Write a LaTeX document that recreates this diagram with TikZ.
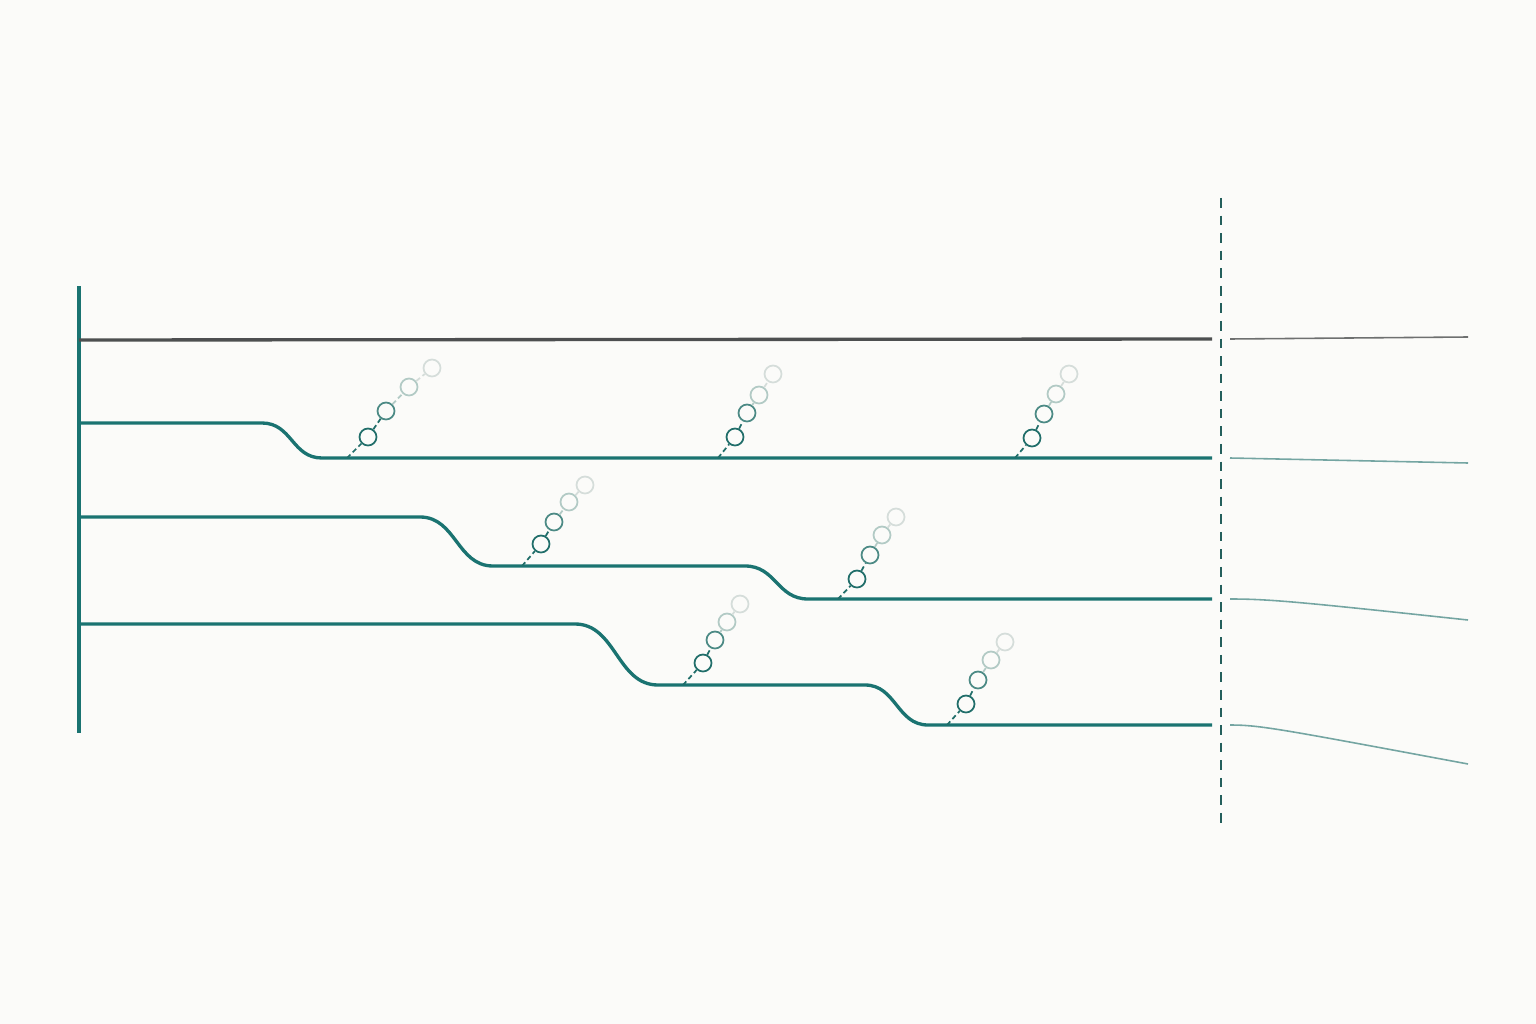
\documentclass[tikz,border=0pt]{standalone}
\definecolor{paper}{HTML}{FBFBF9}
\definecolor{lane}{HTML}{1A7371}
\definecolor{laneshade}{HTML}{74A5A2}
\definecolor{topline}{HTML}{4D4F50}
\definecolor{topshade}{HTML}{6E7070}
\definecolor{cutline}{HTML}{245F5C}
\definecolor{bubdark}{HTML}{216E6A}
\definecolor{bubmid}{HTML}{4C8A85}
\definecolor{bublight}{HTML}{B2CAC5}
\definecolor{bubfaint}{HTML}{D5DDDA}
\tikzset{
  lanestroke/.style={draw=lane, line width=1.9pt},
  tailstroke/.style={draw=laneshade, line width=0.9pt},
  bub/.style={circle, draw=#1, fill=paper, line width=1pt, minimum size=0.34cm, inner sep=0pt},
  hop/.style={draw=#1, line width=1pt, dash pattern=on 2.8pt off 1.8pt},
}
\begin{document}
\begin{tikzpicture}[x=0.02cm, y=-0.02cm]
  \fill[paper] (0,0) rectangle (1536,1024);

  % left bar and cut line
  \coordinate (bartop) at (79,286);
  \coordinate (barbot) at (79,733);
  \draw[lane, line width=1.9pt] (bartop) -- (barbot);
  \coordinate (cuttop) at (1221,198);
  \coordinate (cutbot) at (1221,830);
  \draw[cutline, line width=1.1pt, dash pattern=on 5.5pt off 4.5pt] (cuttop) -- (cutbot);

  % top lane
  \draw[topline, line width=1.9pt] (79,340) -- (1212,339);
  \draw[topshade, line width=0.9pt] (1230,339) -- (1468,337);

  % lanes that step down
  \draw[lanestroke] (79,423) -- (262,423) .. controls (292,423) and (292,458) .. (322,458) -- (1212,458);
  \draw[lanestroke] (79,517) -- (420,517) .. controls (456,517) and (457,566) .. (493,566)
    -- (745,566) .. controls (776,566) and (777,599) .. (808,599) -- (1212,599);
  \draw[lanestroke] (79,624) -- (575,624) .. controls (616,624) and (617,685) .. (658,685)
    -- (865,685) .. controls (896,685) and (897,725) .. (928,725) -- (1212,725);

  % tails past the cut
  \draw[tailstroke] (1230,458) -- (1468,463);
  \draw[tailstroke] (1230,599) .. controls (1270,599) and (1300,602) .. (1468,620);
  \draw[tailstroke] (1230,725) .. controls (1260,725) and (1280,729) .. (1468,764);

  % bubbles rising from the lanes
  \foreach \sx/\sy/\ax/\ay/\bx/\by/\cx/\cy/\dx/\dy [count=\i] in {
      347/458/368/437/386/411/409/387/432/368,
      718/458/735/437/747/413/759/395/773/374,
      1015/458/1032/438/1044/414/1056/394/1069/374,
      522/566/541/544/554/522/569/502/585/485,
      838/599/857/579/870/555/882/535/896/517,
      683/685/703/663/715/640/727/622/740/604,
      947/725/966/704/978/680/991/660/1005/642} {
    \coordinate (s\i) at (\sx,\sy);
    \node[bub=bubdark] (a\i) at (\ax,\ay) {};
    \node[bub=bubmid] (b\i) at (\bx,\by) {};
    \node[bub=bublight] (c\i) at (\cx,\cy) {};
    \node[bub=bubfaint] (d\i) at (\dx,\dy) {};
    \draw[hop=bubdark] (s\i) -- (a\i);
    \draw[hop=bubdark] (a\i) -- (b\i);
    \draw[hop=bublight] (b\i) -- (c\i);
    \draw[hop=bubfaint] (c\i) -- (d\i);
  }
\end{tikzpicture}
\end{document}
